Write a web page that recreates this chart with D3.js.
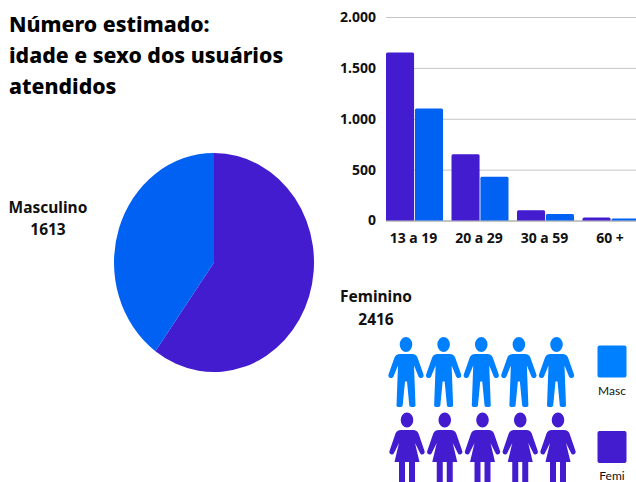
<!DOCTYPE html>
<html>
<head>
<meta charset="utf-8">
<script src="https://cdnjs.cloudflare.com/ajax/libs/d3/7.8.5/d3.min.js"></script>
<style>
  html, body { margin: 0; background: #fff; overflow: hidden; }
  text { font-family: "Noto Sans", sans-serif; fill: #111; }
</style>
</head>
<body>
<div id="chart"></div>
<script>
const titleLines = ["Número estimado:", "idade e sexo dos usuários", "atendidos"];

const sexes = ["Masculino", "Feminino"];
const sexTotals = [1613, 2416];

const ageGroups = ["13 a 19", "20 a 29", "30 a 59", "60 +"];
const femaleCounts = [1650, 650, 100, 30];
const maleCounts = [1100, 430, 65, 20];
const yTicks = [0, 500, 1000, 1500, 2000];

const iconColumns = [0, 1, 2, 3, 4];

const purple = "#431ccf";
const blue = "#0061f2";
const iconBlue = "#0080ff";

const width = 636;
const height = 482;

// outlines of the two pictogram figures, origin at the middle of the head
const headPath = "M-6.3,0A6.3,7.5 0 1 1 6.3,0A6.3,7.5 0 1 1 -6.3,0Z";
const manPath = headPath +
  "M-6,9.5H6C9,9.5 10.5,11 11.5,13L17.5,30C18.5,33.5 14,35 12.5,32L8,21L9.5,61C9.5,63 3.5,63 3.3,61L1,37H-1L-3.3,61C-3.5,63 -9.5,63 -9.5,61L-8,21L-12.5,32C-14,35 -18.5,33.5 -17.5,30L-11.5,13C-10.5,11 -9,9.5 -6,9.5Z";
const womanPath = headPath +
  "M-6,10H6C9,10 10.5,11.5 11.5,13.5L17.5,31C18.5,34 14.5,36 13,33L8,23L12.5,42H8V64H2V42H-2V64H-8V42H-12.5L-8,23L-13,33C-14.5,36 -18.5,34 -17.5,31L-11.5,13.5C-10.5,11.5 -9,10 -6,10Z";

const svg = d3
  .select("#chart")
  .append("svg")
  .attr("width", width)
  .attr("height", height)
  .attr("viewBox", `0 0 ${width} ${height}`)
  .style("display", "block");

drawTitle();
drawPie();
drawBars();
drawIcons();

function drawTitle() {
  svg
    .append("g")
    .selectAll("text")
    .data(titleLines)
    .join("text")
    .attr("x", 9)
    .attr("y", (d, i) => 32 + i * 31)
    .attr("font-size", 21.3)
    .attr("font-weight", 800)
    .style("fill", "#000")
    .text((d) => d);
}

function drawPie() {
  const pie = d3.pie().sort(null);
  // feminino comes first, clockwise from 12 o'clock
  const slices = pie([sexTotals[1], sexTotals[0]]);
  const arc = d3.arc().innerRadius(0).outerRadius(100);

  // the pie is slightly taller than wide in the picture
  svg
    .append("g")
    .attr("transform", "translate(214,262.5) scale(1,1.095)")
    .selectAll("path")
    .data(slices)
    .join("path")
    .attr("d", arc)
    .attr("fill", (d, i) => (i === 0 ? purple : blue));

  const labels = [
    { name: sexes[0], total: sexTotals[0], x: 48, y: 212.5 },
    { name: sexes[1], total: sexTotals[1], x: 376, y: 302 }
  ];

  const g = svg.append("g").attr("text-anchor", "middle").attr("font-size", 15.5).attr("font-weight", 700);
  labels.forEach((d) => {
    g.append("text").attr("x", d.x).attr("y", d.y).text(d.name);
    g.append("text").attr("x", d.x).attr("y", d.y + 22.5).text(d.total);
  });
}

function drawBars() {
  const x = d3.scaleBand().domain(ageGroups).range([381.75, 643.75]).paddingInner(0.13).paddingOuter(0.065);
  const sub = d3.scaleBand().domain(["f", "m"]).range([0, x.bandwidth()]).paddingInner(0.03);
  const y = d3.scaleLinear().domain([0, 2000]).range([220.5, 17]);
  const fmt = (v) => d3.format(",")(v).replace(",", ".");

  const yAxis = svg
    .append("g")
    .attr("transform", "translate(386,0)")
    .call(d3.axisLeft(y).tickValues(yTicks).tickSize(-250).tickFormat(fmt));
  yAxis.select(".domain").remove();
  yAxis
    .selectAll(".tick line")
    .attr("stroke", (d) => (d === 0 ? "#8a8a8a" : "#c4c4c4"))
    .attr("stroke-width", 1);
  yAxis
    .selectAll(".tick text")
    .attr("x", -10)
    .attr("font-family", null)
    .attr("font-size", 14)
    .attr("font-weight", 700);

  const xAxis = svg
    .append("g")
    .attr("transform", "translate(0,221)")
    .call(d3.axisBottom(x).tickSize(0).tickPadding(12));
  xAxis.select(".domain").remove();
  xAxis
    .selectAll(".tick text")
    .attr("dx", -1)
    .attr("font-family", null)
    .attr("font-size", 14)
    .attr("font-weight", 700);

  const rows = ageGroups.map((age, i) => ({ age, f: femaleCounts[i], m: maleCounts[i] }));

  const groups = svg
    .append("g")
    .selectAll("g")
    .data(rows)
    .join("g")
    .attr("transform", (d) => `translate(${x(d.age)},0)`);

  groups
    .selectAll("path")
    .data((d) => [
      { key: "f", value: d.f },
      { key: "m", value: d.m }
    ])
    .join("path")
    .attr("fill", (d) => (d.key === "f" ? purple : blue))
    .attr("d", (d) => {
      const x0 = sub(d.key);
      const w = sub.bandwidth();
      const top = y(d.value);
      const r = 1.5;
      return `M${x0},${y(0)}V${top + r}Q${x0},${top} ${x0 + r},${top}H${x0 + w - r}Q${x0 + w},${top} ${x0 + w},${top + r}V${y(0)}Z`;
    });
}

function drawIcons() {
  const step = d3.scaleLinear().domain([0, 4]);

  svg
    .append("g")
    .selectAll("path")
    .data(iconColumns)
    .join("path")
    .attr("d", manPath)
    .attr("fill", iconBlue)
    .attr("transform", (d) => `translate(${step.range([406, 556.5])(d)},344.5)`);

  svg
    .append("g")
    .selectAll("path")
    .data(iconColumns)
    .join("path")
    .attr("d", womanPath)
    .attr("fill", purple)
    .attr("transform", (d) => `translate(${step.range([407, 558])(d)},420)`);

  const legend = [
    { label: "Masc", color: iconBlue, y: 345.5 },
    { label: "Femi", color: purple, y: 431 }
  ];

  const g = svg.append("g").selectAll("g").data(legend).join("g");
  g.append("rect")
    .attr("x", 597.5)
    .attr("y", (d) => d.y)
    .attr("width", 29)
    .attr("height", 32)
    .attr("rx", 2)
    .attr("fill", (d) => d.color);
  g.append("text")
    .attr("x", 612)
    .attr("y", (d) => d.y + 49)
    .attr("text-anchor", "middle")
    .attr("font-size", 12)
    .style("font-family", "Lato, sans-serif")
    .text((d) => d.label);
}
</script>
</body>
</html>
